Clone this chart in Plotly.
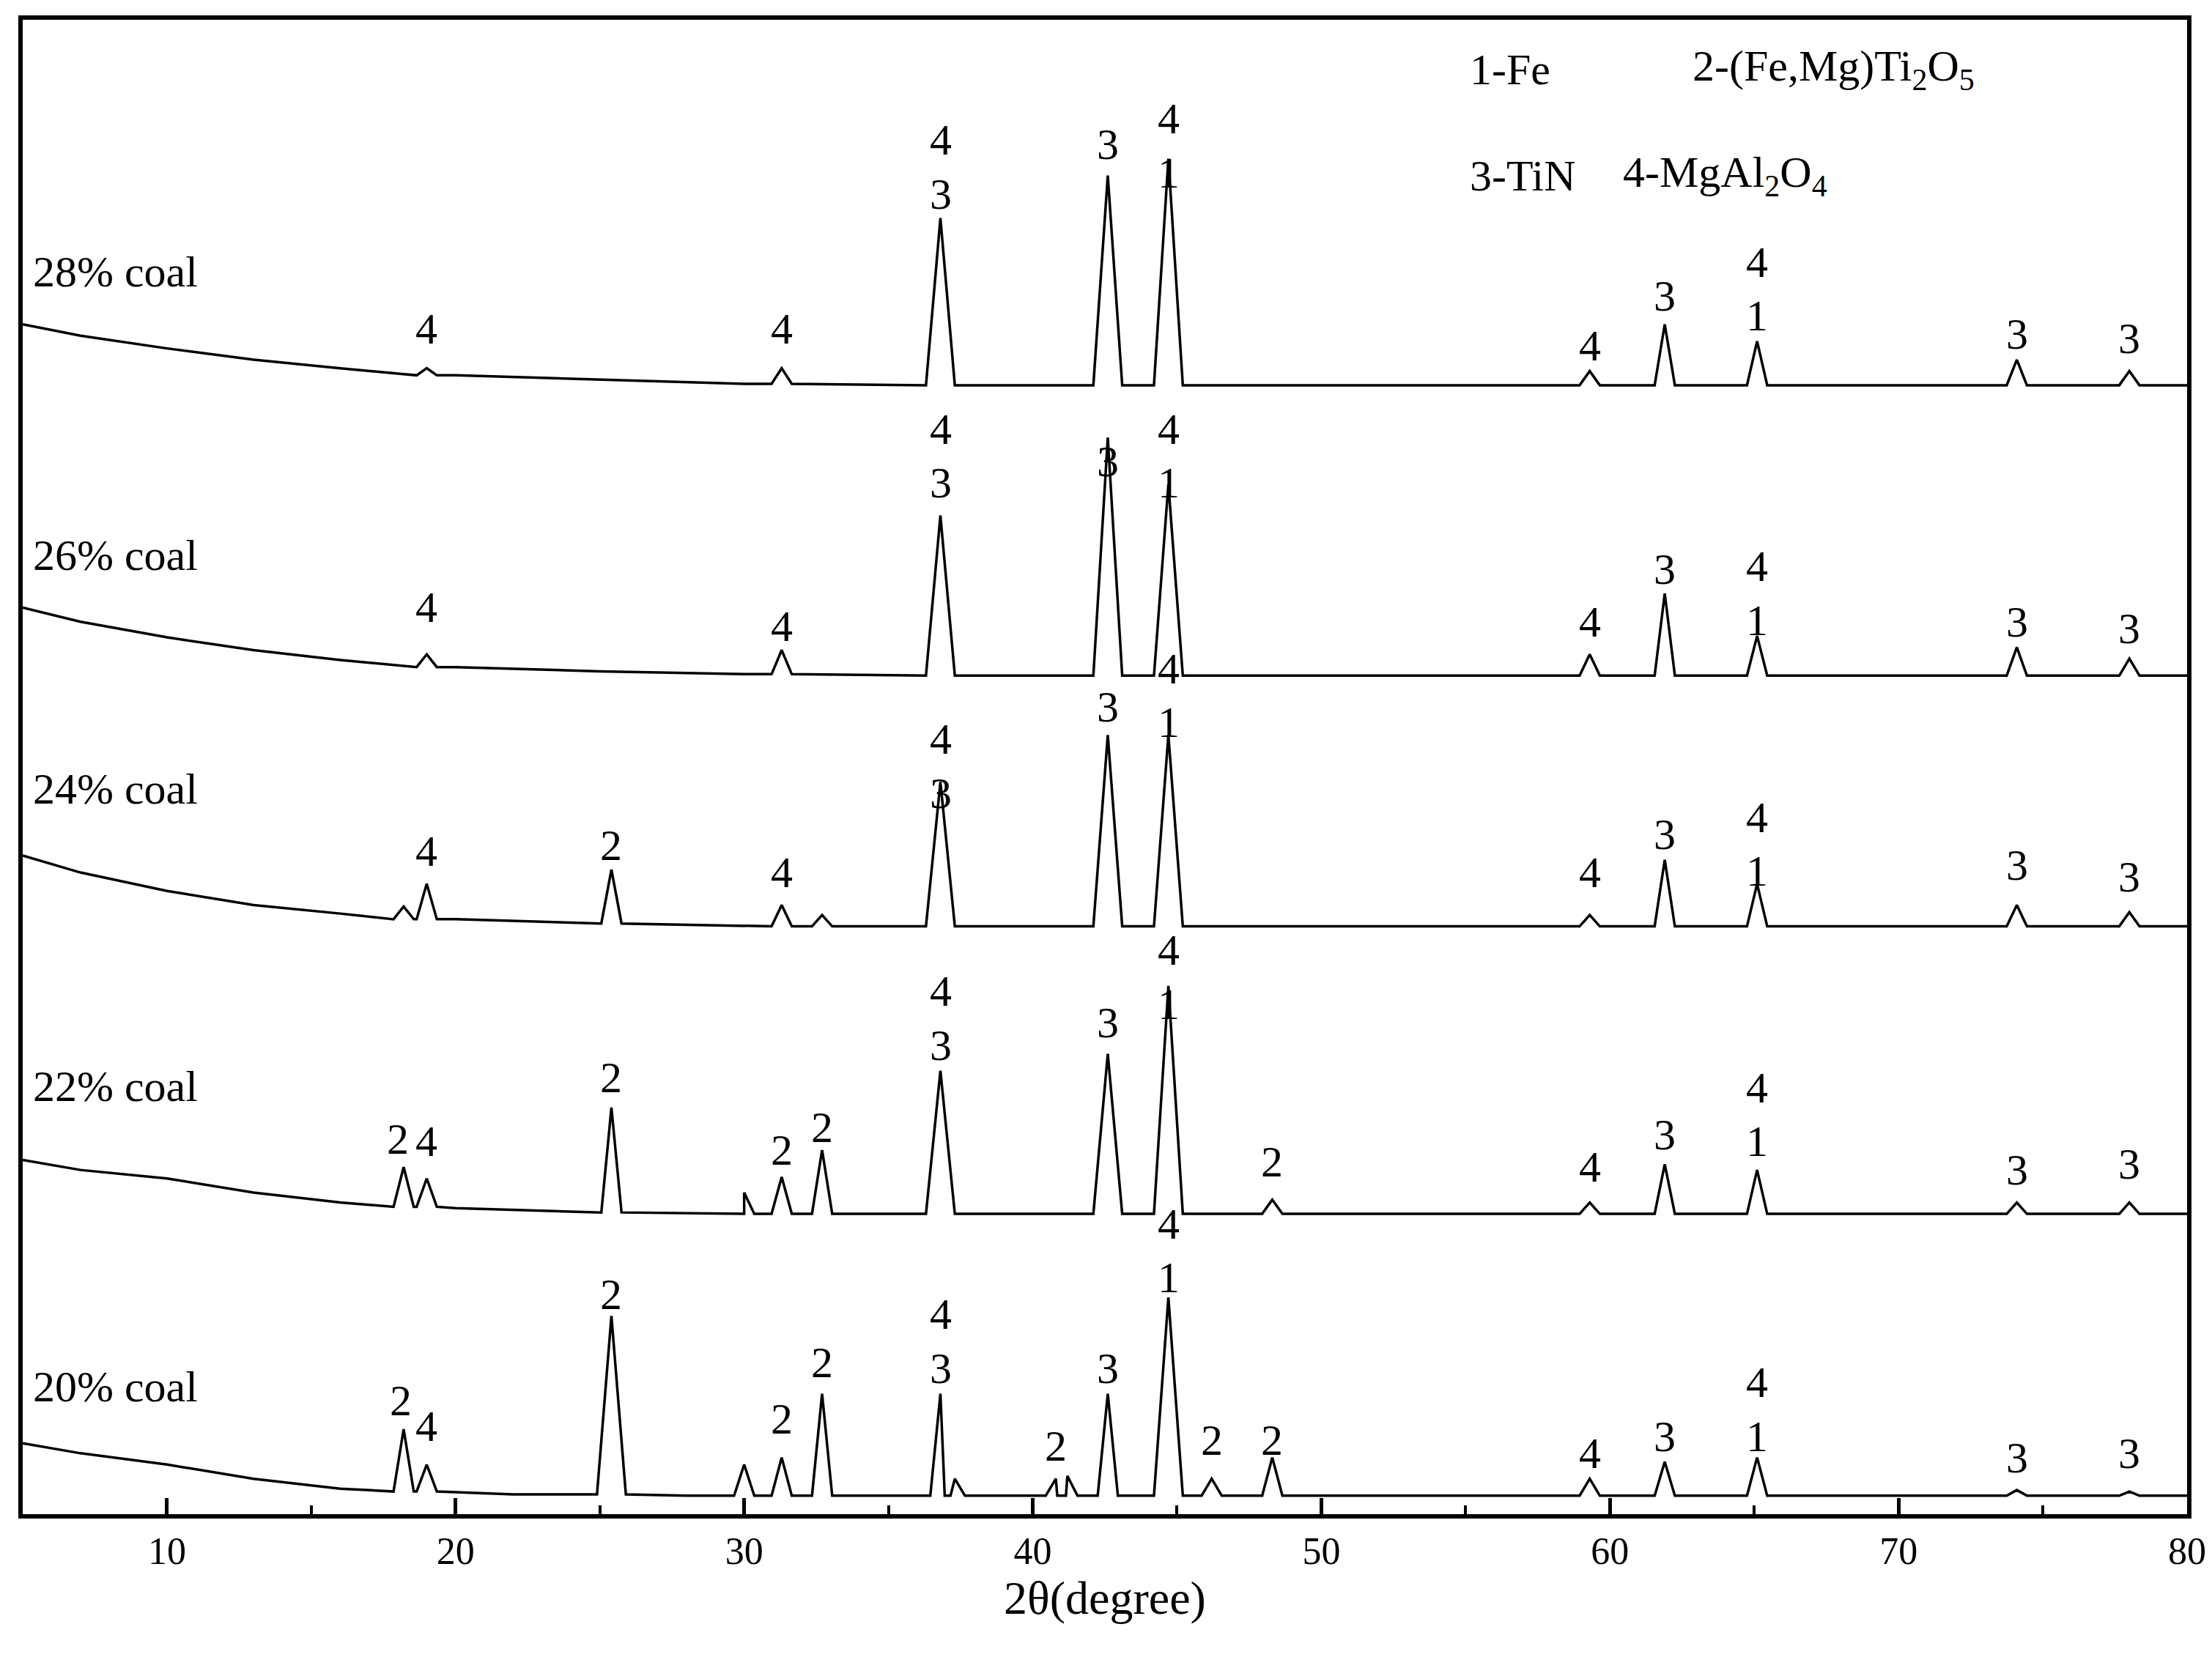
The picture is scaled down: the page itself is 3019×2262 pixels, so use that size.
import plotly.graph_objects as go

# heights, relative to each pattern's flat baseline
# baseline anchors (2theta, height) for the rising low-angle background
base_20 = [(5, 37), (7, 30), (10, 22), (13, 12), (16, 5), (18, 3), (22, 1), (28, 0), (80, 0)]
base_22 = [(5, 38), (7, 31), (10, 25), (13, 15), (16, 8), (20, 4), (25, 1), (30, 0), (80, 0)]
base_24 = [(5, 50), (7, 38), (10, 25), (13, 15), (16, 9), (20, 5), (25, 2), (30, 0), (80, 0)]
base_26 = [(5, 48), (7, 38), (10, 27), (13, 18), (16, 11), (20, 6), (25, 3), (30, 1), (40, 0), (80, 0)]
base_28 = [(5, 43), (7, 35), (10, 26), (13, 18), (16, 12), (20, 7), (25, 4), (30, 1), (40, 0), (80, 0)]

# peaks (2theta, apex height, foot height)
peaks_20 = [(18.2, 47, 3), (19.0, 22, 3), (25.4, 127, 1), (30.0, 22, 0), (31.3, 27, 0), (32.7, 72, 0),
            (36.8, 72, 0), (37.3, 12, 0), (40.8, 12, 0), (41.2, 14, 0), (42.6, 72, 0), (44.7, 140, 0),
            (46.2, 12, 0), (48.3, 27, 0), (59.3, 12, 0), (61.9, 24, 0), (65.1, 27, 0), (74.1, 4, 0), (78.0, 3, 0)]
peaks_22 = [(18.2, 33, 5), (19.0, 25, 5), (25.4, 75, 1), (30.0, 15, 0), (31.3, 26, 0), (32.7, 45, 0),
            (36.8, 101, 0), (42.6, 113, 0), (44.7, 161, 0), (48.3, 10, 0), (59.3, 8, 0), (61.9, 35, 0),
            (65.1, 31, 0), (74.1, 8, 0), (78.0, 8, 0)]
peaks_24 = [(18.2, 14, 5), (19.0, 30, 5), (25.4, 40, 2), (31.3, 15, 0), (32.7, 8, 0), (36.8, 102, 0),
            (42.6, 135, 0), (44.7, 135, 0), (59.3, 8, 0), (61.9, 47, 0), (65.1, 30, 0), (74.1, 15, 0), (78.0, 10, 0)]
peaks_26 = [(19.0, 15, 6), (31.3, 18, 1), (36.8, 113, 0), (42.6, 168, 0), (44.7, 135, 0), (59.3, 15, 0),
            (61.9, 58, 0), (65.1, 28, 0), (74.1, 20, 0), (78.0, 12, 0)]
peaks_28 = [(19.0, 12, 7), (31.3, 12, 1), (36.8, 118, 0), (42.6, 148, 0), (44.7, 160, 0), (59.3, 10, 0),
            (61.9, 43, 0), (65.1, 31, 0), (74.1, 18, 0), (78.0, 10, 0)]

names = ["20% coal", "22% coal", "24% coal", "26% coal", "28% coal"]
offsets = [13, 212, 415, 592, 797]
name_y = [90, 302, 512, 677, 877]

# phase labels: (2theta, text, height in axis units); "a/b" = two stacked labels
labels_20 = [(18.1, "2", 80), (19.0, "4", 62), (25.4, "2", 155), (31.3, "2", 67), (32.7, "2", 107),
             (36.8, "4/3", 122), (40.8, "2", 48), (42.6, "3", 103), (44.7, "4/1", 186),
             (46.2, "2", 52), (48.3, "2", 52), (59.3, "4", 43), (61.9, "3", 55), (65.1, "4/1", 74),
             (74.1, "3", 40), (78.0, "3", 43)]
labels_22 = [(18.0, "2", 265), (19.0, "4", 263), (25.4, "2", 308), (31.3, "2", 257), (32.7, "2", 273),
             (36.8, "4/3", 350), (42.6, "3", 347), (44.7, "4/1", 379), (48.3, "2", 249),
             (59.3, "4", 245), (61.9, "3", 268), (65.1, "4/1", 282), (74.1, "3", 243), (78.0, "3", 247)]
labels_24 = [(19.0, "4", 468), (25.4, "2", 472), (31.3, "4", 453), (36.8, "4/3", 528), (42.6, "3", 570),
             (44.7, "4/1", 578), (59.3, "4", 453), (61.9, "3", 480), (65.1, "4/1", 473),
             (74.1, "3", 458), (78.0, "3", 450)]
labels_26 = [(19.0, "4", 640), (31.3, "4", 627), (36.8, "4/3", 747), (42.6, "3", 743), (44.7, "4/1", 747),
             (59.3, "4", 630), (61.9, "3", 667), (65.1, "4/1", 650), (74.1, "3", 630), (78.0, "3", 625)]
labels_28 = [(19.0, "4", 837), (31.3, "4", 837), (36.8, "4/3", 951), (42.6, "3", 967), (44.7, "4/1", 966),
             (59.3, "4", 825), (61.9, "3", 860), (65.1, "4/1", 865), (74.1, "3", 833), (78.0, "3", 830)]

bases = [base_20, base_22, base_24, base_26, base_28]
peaks = [peaks_20, peaks_22, peaks_24, peaks_26, peaks_28]
labels = [labels_20, labels_22, labels_24, labels_26, labels_28]

FONT = "Liberation Serif"
SIZE = 60
fig = go.Figure()


def label(x, y, t, anchor="center"):
    fig.add_annotation(x=x, y=y, text=t, showarrow=False, xanchor=anchor,
                       font=dict(family=FONT, size=SIZE, color="black"))


for base, pk, off, nm, ny, lab in zip(bases, peaks, offsets, names, name_y, labels):
    pts = list(base)
    for c, h, foot in pk:
        w = 0.5 if h > 100 else 0.35
        pts += [(c - w, foot), (c, h), (c + w, foot)]
    pts = [p for p in pts if not any(abs(p[0] - c) < 0.6 and p[0] != c and p in base for c, _, _ in pk)]
    pts.sort()
    fig.add_trace(go.Scatter(x=[p[0] for p in pts], y=[p[1] + off for p in pts], mode="lines",
                             line=dict(color="black", width=3.5), showlegend=False))
    label(5.3, ny, nm, "left")
    for x, t, y in lab:
        if "/" in t:
            top, bot = t.split("/")
            label(x, y + 19, top)
            label(x, y - 19, bot)
        else:
            label(x, y, t)

legend_items = [(55.1, 1020, "1-Fe"), (62.8, 1020, "2-(Fe,Mg)Ti<sub>2</sub>O<sub>5</sub>"),
                (55.1, 945, "3-TiN"), (60.4, 945, "4-MgAl<sub>2</sub>O<sub>4</sub>")]
for x, y, t in legend_items:
    label(x, y, t, "left")

fig.update_layout(width=3019, height=2262, plot_bgcolor="white", paper_bgcolor="white",
                  margin=dict(l=23, r=42, t=19, b=203))
fig.update_xaxes(range=[5, 80], tickvals=[10, 20, 30, 40, 50, 60, 70, 80], ticks="inside",
                 ticklen=22, tickwidth=5, tickcolor="black",
                 minor=dict(tickvals=[15, 25, 35, 45, 55, 65, 75], ticks="inside", ticklen=12, tickwidth=4,
                            tickcolor="black"),
                 showline=True, linewidth=6, linecolor="black", mirror=True, showgrid=False, zeroline=False,
                 tickfont=dict(family=FONT, size=52, color="black"),
                 title=dict(text="2θ(degree)", font=dict(family=FONT, size=64, color="black"), standoff=10))
fig.update_yaxes(range=[0, 1055], showticklabels=False, ticks="", showline=True, linewidth=6,
                 linecolor="black", mirror=True, showgrid=False, zeroline=False)

fig.write_html("out.html")
